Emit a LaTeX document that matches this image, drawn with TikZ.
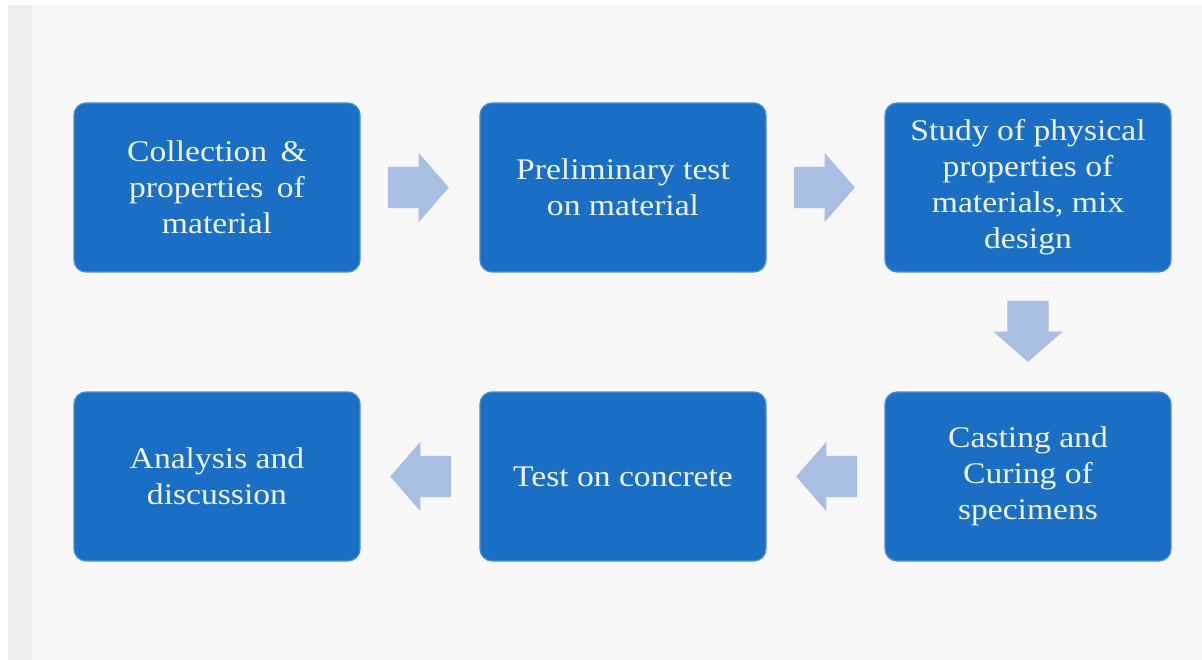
\documentclass[tikz,border=0pt]{standalone}
\usepackage{fontspec}
\setmainfont[FakeStretch=1.12]{Liberation Serif}
\usetikzlibrary{shapes.arrows,calc}
\definecolor{boxblue}{HTML}{1A6EC3}
\definecolor{boxrim}{HTML}{4A90D9}
\definecolor{arrowblue}{HTML}{A8BEE2}
\definecolor{txt}{HTML}{EEF4FB}
\definecolor{pagebg}{HTML}{F8F8F8}
\definecolor{strip}{HTML}{EDEDED}
\begin{document}
\begin{tikzpicture}[x=1pt,y=-1pt,
  stepbox/.style={fill=boxblue, draw=boxrim, line width=1.2pt, rounded corners=12pt,
    minimum width=286pt, minimum height=169pt, text=txt, align=center,
    font=\fontsize{30}{36}\selectfont},
  flowarrow/.style={single arrow, fill=arrowblue, draw=none, minimum height=61pt,
    inner xsep=0pt, inner ysep=20.5pt, single arrow head extend=14pt,
    single arrow tip angle=98, anchor=tail}]
\useasboundingbox (0,0) rectangle (1202,660);
\fill[white] (0,0) rectangle (1202,660);
\fill[strip] (8,5) rectangle (32,660);
\fill[pagebg] (32,5) rectangle (1202,660);
\node[stepbox] (b1) at (217,187.5) {Collection \,\&\\properties \,of\\material};
\node[stepbox] (b2) at (623,187.5) {Preliminary test\\on material};
\node[stepbox] (b3) at (1028,187.5) {Study of physical\\properties of\\materials, mix\\design};
\node[stepbox] (b4) at (1028,476.5) {Casting and\\Curing of\\specimens};
\node[stepbox] (b5) at (623,476.5) {Test on concrete};
\node[stepbox] (b6) at (217,476.5) {Analysis and\\discussion};
\node[flowarrow] (a1) at ($(b1.east)+(27,0)$) {};
\node[flowarrow] (a2) at ($(b2.east)+(27,0)$) {};
\node[flowarrow, rotate=-90] (a3) at ($(b3.south)+(0,28)$) {};
\node[flowarrow, rotate=180] (a4) at ($(b4.west)+(-27,0)$) {};
\node[flowarrow, rotate=180] (a5) at ($(b5.west)+(-28,0)$) {};
\end{tikzpicture}
\end{document}
